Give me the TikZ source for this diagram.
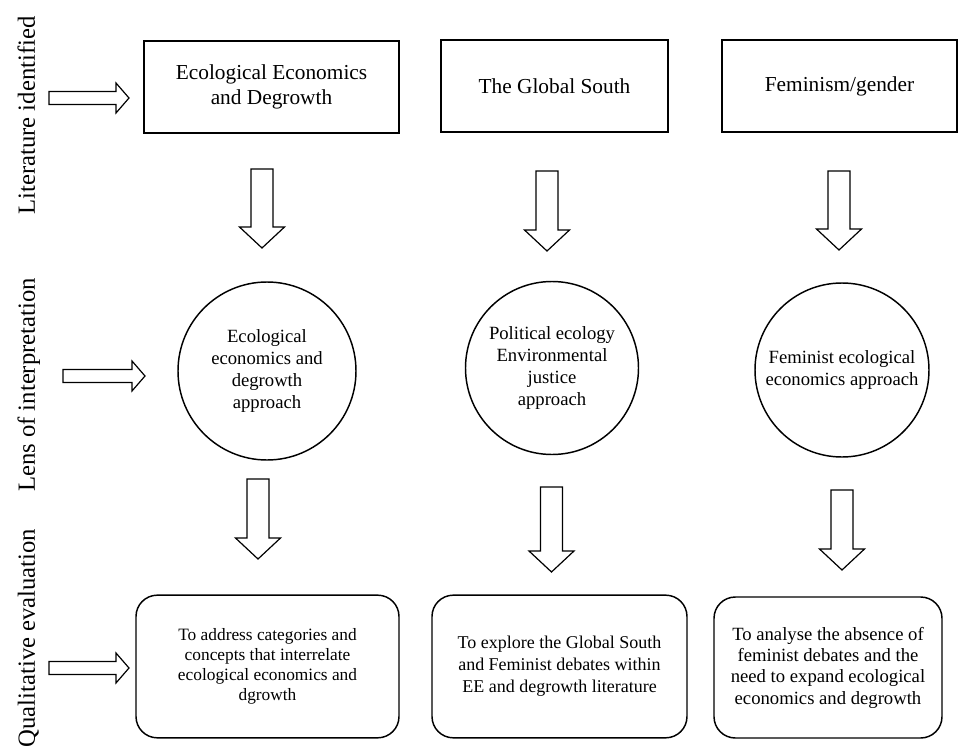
\documentclass[tikz,border=0pt]{standalone}
\usepackage{fontspec}
\setmainfont{Liberation Serif}
\usetikzlibrary{calc}

\begin{document}
\begin{tikzpicture}[x=0.75pt,y=-0.75pt]
  \tikzset{
    litbox/.style={draw,line width=1.1pt,minimum width=#1,minimum height=69pt,align=center,font=\fontsize{16}{19}\selectfont},
    lensc/.style={draw,circle,line width=1.1pt,minimum size=#1,inner sep=1pt,align=center,font=\fontsize{14}{16.5}\selectfont},
    evalbox/.style={draw,rounded corners=16pt,line width=1.1pt,minimum width=#1,minimum height=107pt,align=center},
    sidelbl/.style={rotate=90,anchor=base,font=\fontsize{18.5}{22}\selectfont},
    dnarr/.style={draw,line width=0.9pt,to path={($(\tikztostart)+(-11,0)$) -- ($(\tikztotarget)+(-11,-21)$) -- ($(\tikztotarget)+(-22.5,-21)$) -- (\tikztotarget) -- ($(\tikztotarget)+(22.5,-21)$) -- ($(\tikztotarget)+(11,-21)$) -- ($(\tikztostart)+(11,0)$) -- cycle}},
    rtarr/.style={draw,line width=0.9pt,to path={($(\tikztostart)+(0,-6.5)$) -- ($(\tikztotarget)+(-13,-6.5)$) -- ($(\tikztotarget)+(-13,-15)$) -- (\tikztotarget) -- ($(\tikztotarget)+(-13,15)$) -- ($(\tikztotarget)+(-13,6.5)$) -- ($(\tikztostart)+(0,6.5)$) -- cycle}}
  }
  \useasboundingbox (0,0) rectangle (958,753);

  % row labels
  \node[sidelbl] (lblLit) at (35,115.5) {Literature identified};
  \node[sidelbl] (lblLens) at (35,385) {Lens of interpretation};
  \node[sidelbl] (lblEval) at (35,638) {Qualitative evaluation};

  % literature
  \node[litbox=191.25pt] (lit1) at (271.5,87) {Ecological Economics\\and Degrowth};
  \node[litbox=170.25pt] (lit2) at (554.5,86) {The Global South};
  \node[litbox=176.25pt] (lit3) at (839.5,86) {Feminism/gender};

  % lenses
  \node[lensc=133.5pt] (lens1) at (267,371) {Ecological\\economics and\\degrowth\\approach};
  \node[lensc=129.75pt] (lens2) at (552,368) {Political ecology\\Environmental\\justice\\approach};
  \node[lensc=130.5pt] (lens3) at (842,370) {Feminist ecological\\economics approach};

  % evaluation
  \node[evalbox=197.25pt,font=\fontsize{13}{15}\selectfont] (eval1) at (267.5,666.5) {To address categories and\\concepts that interrelate\\ecological economics and\\dgrowth};
  \node[evalbox=191.25pt,font=\fontsize{13.5}{16.5}\selectfont] (eval2) at (559.5,666.5) {To explore the Global South\\and Feminist debates within\\EE and degrowth literature};
  \node[evalbox=171pt,minimum height=105.75pt,font=\fontsize{14}{16}\selectfont] (eval3) at (828,667.5) {To analyse the absence of\\feminist debates and the\\need to expand ecological\\economics and degrowth};

  % arrow ends
  \coordinate (r1a) at (49,98);   \coordinate (r1b) at (129,98);
  \coordinate (r2a) at (63,376);  \coordinate (r2b) at (145,376);
  \coordinate (r3a) at (49,668);  \coordinate (r3b) at (129,668);
  \coordinate (d1a) at (262,169); \coordinate (d1b) at (262,248);
  \coordinate (d2a) at (547,171); \coordinate (d2b) at (547,251);
  \coordinate (d3a) at (839,171); \coordinate (d3b) at (839,250);
  \coordinate (e1a) at (258,479); \coordinate (e1b) at (258,559);
  \coordinate (e2a) at (551.5,487); \coordinate (e2b) at (551.5,572);
  \coordinate (e3a) at (842,490); \coordinate (e3b) at (842,570);

  \foreach \a/\b in {r1a/r1b,r2a/r2b,r3a/r3b} {
    \draw[rtarr] (\a) to (\b);
  }
  \foreach \a/\b in {d1a/d1b,d2a/d2b,d3a/d3b,e1a/e1b,e2a/e2b,e3a/e3b} {
    \draw[dnarr] (\a) to (\b);
  }
\end{tikzpicture}
\end{document}
